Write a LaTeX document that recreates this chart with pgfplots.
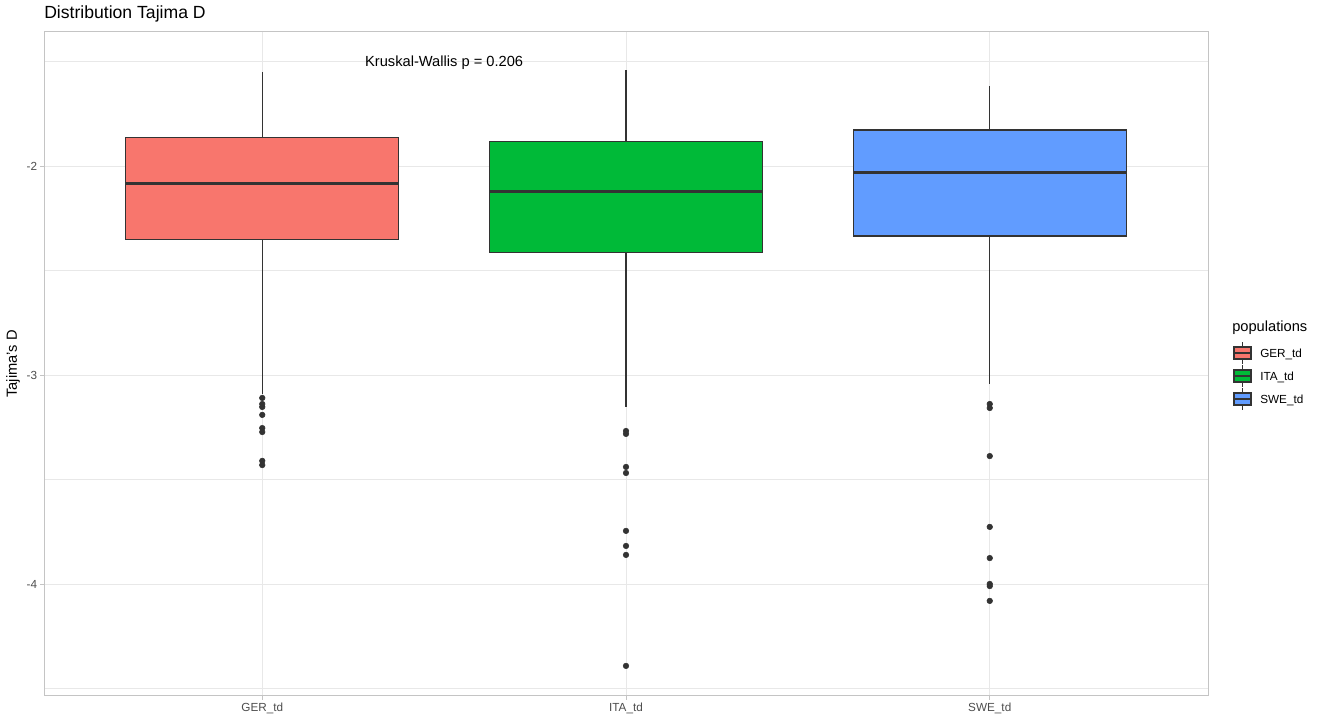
\documentclass[border=0pt]{standalone}
\usepackage{fontspec}
\setmainfont{Liberation Sans}
\usepackage{pgfplots}
\pgfplotsset{compat=1.18}
\usepgfplotslibrary{statistics}
\definecolor{gerc}{HTML}{F8766D}
\definecolor{itac}{HTML}{00BA38}
\definecolor{swec}{HTML}{619CFF}
\definecolor{dk}{HTML}{333333}
\definecolor{gridc}{HTML}{E8E8E8}
\definecolor{bord}{HTML}{C4C4C4}
\definecolor{tickc}{HTML}{4D4D4D}
\begin{document}
\begin{tikzpicture}
\useasboundingbox (0,0) rectangle (990pt,542.25pt);
\begin{axis}[
  at={(33pt,20.25pt)}, anchor=south west,
  scale only axis, width=873pt, height=498pt,
  xmin=0.4, xmax=3.6, ymin=-4.536, ymax=-1.359,
  xtick={1,2,3}, xticklabels={GER\_td,ITA\_td,SWE\_td},
  ytick={-4,-3,-2}, yticklabels={-4,-3,-2},
  minor ytick={-4.5,-3.5,-2.5,-1.5},
  grid=both,
  major grid style={gridc, line width=0.55pt},
  minor grid style={gridc, line width=0.3pt},
  axis line style={bord, line width=0.75pt},
  major tick style={bord, line width=0.5pt},
  minor tick length=0pt,
  major tick length=2.75pt,
  tick align=outside, tick pos=left,
  ticklabel style={font=\fontsize{8.8}{10}\selectfont, text=tickc, inner sep=0pt},
  yticklabel style={xshift=-2.2pt},
  xticklabel style={yshift=-2.2pt},
  ylabel={Tajima's D},
  every axis y label/.style={at={(axis description cs:-0.02663,0.5)}, rotate=90, anchor=center, font=\fontsize{11}{13}\selectfont},
  clip=false,
  boxplot/draw direction=y,
  boxplot/every median/.style={line width=2.2pt},
  boxplot/every box/.style={line width=0.8pt},
  boxplot/every whisker/.style={line width=0.8pt},
]
\addplot[boxplot prepared={draw position=1, lower whisker=-3.091, lower quartile=-2.354, median=-2.086, upper quartile=-1.866, upper whisker=-1.550, box extend=0.75, whisker extend=0}, draw=dk, fill=gerc, mark=*, mark size=2.1pt, mark options={draw=dk, fill=dk, line width=0.4pt}]
 table[row sep=\\, y index=0] {y\\ -3.110\\ -3.139\\ -3.153\\ -3.191\\ -3.254\\ -3.273\\ -3.411\\ -3.431\\};
\addplot[boxplot prepared={draw position=2, lower whisker=-3.153, lower quartile=-2.416, median=-2.124, upper quartile=-1.885, upper whisker=-1.541, box extend=0.75, whisker extend=0}, draw=dk, fill=itac, mark=*, mark size=2.1pt, mark options={draw=dk, fill=dk, line width=0.4pt}]
 table[row sep=\\, y index=0] {y\\ -3.268\\ -3.282\\ -3.440\\ -3.469\\ -3.746\\ -3.818\\ -3.861\\ -4.392\\};
\addplot[boxplot prepared={draw position=3, lower whisker=-3.043, lower quartile=-2.335, median=-2.033, upper quartile=-1.828, upper whisker=-1.617, box extend=0.75, whisker extend=0}, draw=dk, fill=swec, mark=*, mark size=2.1pt, mark options={draw=dk, fill=dk, line width=0.4pt}]
 table[row sep=\\, y index=0] {y\\ -3.139\\ -3.158\\ -3.388\\ -3.727\\ -3.876\\ -4.000\\ -4.010\\ -4.081\\};
\node[anchor=base, font=\fontsize{11}{13}\selectfont, inner sep=0pt] at (axis cs:1.5,-1.526) {Kruskal-Wallis p = 0.206};
\end{axis}
\node[anchor=base west, font=\fontsize{13.2}{15}\selectfont, inner sep=0pt] at (33pt,528pt) {Distribution Tajima D};
% legend
\node[anchor=base west, font=\fontsize{11}{13}\selectfont, inner sep=0pt] at (924pt,293.25pt) {populations};
\foreach \yc/\col/\lab in {277.5/gerc/GER\_td, 260.25/itac/ITA\_td, 243/swec/SWE\_td}{
  \draw[dk, line width=0.75pt] (931.9pt,\yc pt-7.9pt) -- (931.9pt,\yc pt+7.9pt);
  \filldraw[fill=\col, draw=dk, line width=0.9pt] (925.5pt,\yc pt-4.5pt) rectangle (938.3pt,\yc pt+4.5pt);
  \draw[dk, line width=1.2pt] (925.5pt,\yc pt) -- (938.3pt,\yc pt);
  \node[anchor=base west, font=\fontsize{8.8}{10}\selectfont, inner sep=0pt] at (945pt,\yc pt-3.15pt) {\lab};
}
\end{tikzpicture}
\end{document}
